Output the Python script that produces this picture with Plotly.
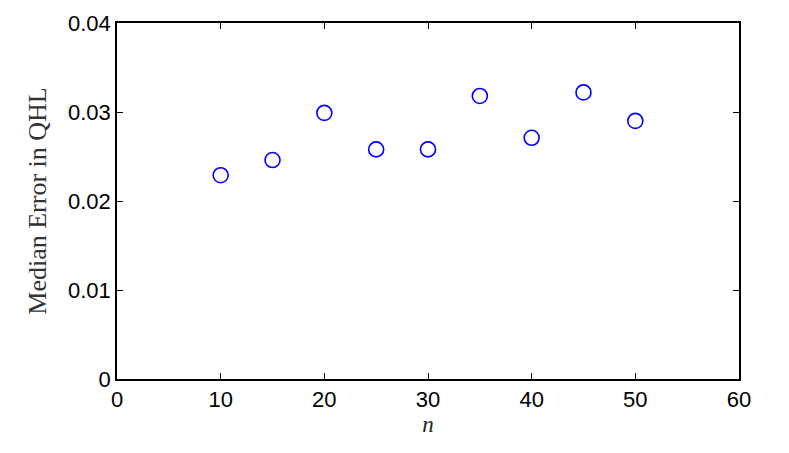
import plotly.graph_objects as go

n_values = [10, 15, 20, 25, 30, 35, 40, 45, 50]
median_error = [0.0229, 0.0246, 0.0299, 0.0258, 0.0258, 0.0318, 0.0271, 0.0322, 0.0290]
x_ticks = [0, 10, 20, 30, 40, 50, 60]
y_ticks = [0, 0.01, 0.02, 0.03, 0.04]
y_tick_labels = ["0", "0.01", "0.02", "0.03", "0.04"]

fig = go.Figure()
fig.add_trace(go.Scatter(
    x=n_values, y=median_error, mode="markers",
    marker=dict(symbol="circle-open", size=15, color="#0000ff", line=dict(width=1.6, color="#0000ff")),
    showlegend=False,
))

axis_common = dict(
    showgrid=False, zeroline=False, showline=True, linecolor="black", linewidth=1.5,
    mirror="ticks", ticks="inside", ticklen=6, tickwidth=1, tickcolor="black",
    automargin=False,
    tickfont=dict(family="Liberation Sans, Arial, sans-serif", size=22, color="black"),
)

fig.update_xaxes(range=[0, 60], tickvals=x_ticks, **axis_common,
                 title=dict(text="<i>n</i>", font=dict(family="Liberation Serif, serif", size=23, color="#222222"), standoff=4))
fig.update_yaxes(range=[0, 0.04], tickvals=y_ticks, ticktext=y_tick_labels, **axis_common,
                 title=dict(text="Median Error in QHL", font=dict(family="Liberation Serif, serif", size=26, color="#333333"), standoff=14))

fig.update_layout(
    width=789, height=453,
    margin=dict(l=109, r=58, t=15, b=82),
    paper_bgcolor="white", plot_bgcolor="white",
)

fig.write_html("out.html")
